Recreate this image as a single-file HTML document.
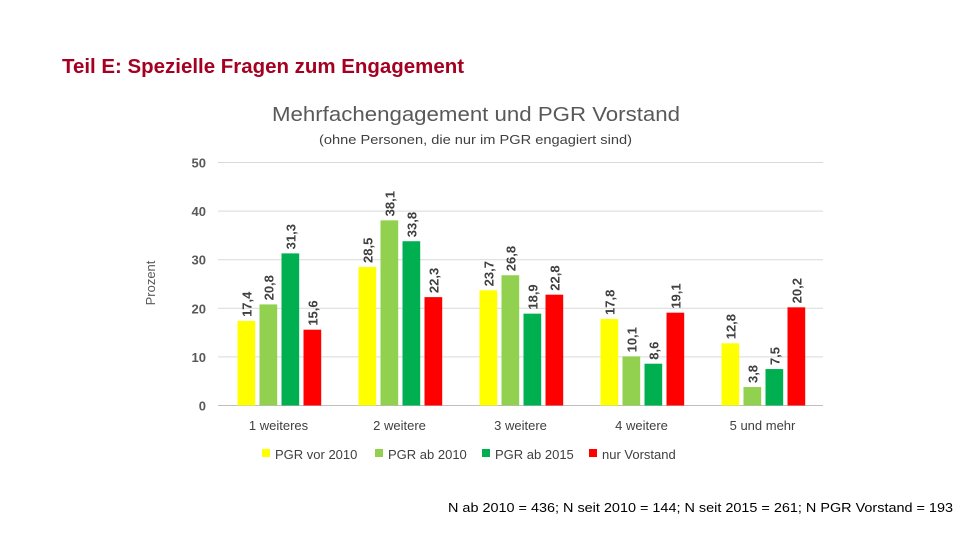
<!DOCTYPE html>
<html><head><meta charset="utf-8"><style>
html,body{margin:0;padding:0;background:#fff;}
svg{display:block;font-family:"Liberation Sans",sans-serif;}
</style></head><body>
<svg id="chart" width="960" height="540" viewBox="0 0 960 540">
<text x="62" y="73" font-size="20" font-weight="bold" fill="#A50021" textLength="402" lengthAdjust="spacingAndGlyphs">Teil E: Spezielle Fragen zum Engagement</text>
<text x="272" y="121" font-size="20" fill="#595959" textLength="408" lengthAdjust="spacingAndGlyphs">Mehrfachengagement und PGR Vorstand</text>
<text x="319" y="144" font-size="13" fill="#404040" textLength="313" lengthAdjust="spacingAndGlyphs">(ohne Personen, die nur im PGR engagiert sind)</text>
<text transform="translate(155,283) rotate(-90)" text-anchor="middle" font-size="13" fill="#595959">Prozent</text>
<g id="grid"></g><g id="bars"></g><g id="legend"></g>
<text x="448" y="512" font-size="13" fill="#000" textLength="505" lengthAdjust="spacingAndGlyphs">N ab 2010 = 436; N seit 2010 = 144; N seit 2015 = 261; N PGR Vorstand = 193</text>
</svg>
<script>
const categories=["1 weiteres","2 weitere","3 weitere","4 weitere","5 und mehr"];
const seriesNames=["PGR vor 2010","PGR ab 2010","PGR ab 2015","nur Vorstand"];
const s1=[17.4,28.5,23.7,17.8,12.8];
const s2=[20.8,38.1,26.8,10.1,3.8];
const s3=[31.3,33.8,18.9,8.6,7.5];
const s4=[15.6,22.3,22.8,19.1,20.2];
const yTicks=[0,10,20,30,40,50];
const series=[s1,s2,s3,s4];
const colors=["#FFFF00","#92D050","#00B050","#FF0000"];
const NS="http://www.w3.org/2000/svg";
const x0=218,x1=823,y0=405.5,yTop=162.5,ymax=50;
const gw=(x1-x0)/categories.length;
function y(v){return y0-(v/ymax)*(y0-yTop);}
function mk(t,a,p){const e=document.createElementNS(NS,t);for(const k in a)e.setAttribute(k,a[k]);p.appendChild(e);return e;}
const grid=document.getElementById('grid');
yTicks.forEach(t=>{
  const l=mk('line',{x1:x0,x2:x1,y1:y(t),y2:y(t),stroke:t===0?'#BFBFBF':'#D9D9D9','stroke-width':1},grid);
  
  
  const tx=mk('text',{x:206,y:y(t)+5,'text-anchor':'end','font-size':13,'font-weight':'bold',fill:'#595959'},grid);
  tx.textContent=t;
  
  
});
const bars=document.getElementById('bars');
const bw=17.7,step=22;
categories.forEach((c,i)=>{
  const start=x0+i*gw+19.5;
  series.forEach((s,j)=>{
    const bx=start+j*step,v=s[i];
    const r=mk('rect',{x:bx,y:y(v),width:bw,height:y0-y(v),fill:colors[j]},bars);
    
    
    const lx=bx+bw/2+5,ly=y(v)-4;
    const t=mk('text',{transform:`translate(${lx},${ly}) rotate(-90)`,'font-size':13,'font-weight':'bold',fill:'#404040'},bars);
    t.textContent=String(v).replace('.',',');
    
    
  });
  const ct=mk('text',{x:x0+i*gw+gw/2,y:430,'text-anchor':'middle','font-size':13,fill:'#404040'},bars);
  ct.textContent=c;
  
  
});
const lg=document.getElementById('legend');
const lx=[262,375,482,589];
seriesNames.forEach((n,j)=>{
  const r=mk('rect',{x:lx[j],y:449,width:8,height:8,fill:colors[j]},lg);
  
  
  const t=mk('text',{x:lx[j]+13,y:459,'font-size':13,fill:'#404040'},lg);
  t.textContent=n;
  
  
});
</script>
</body></html>
